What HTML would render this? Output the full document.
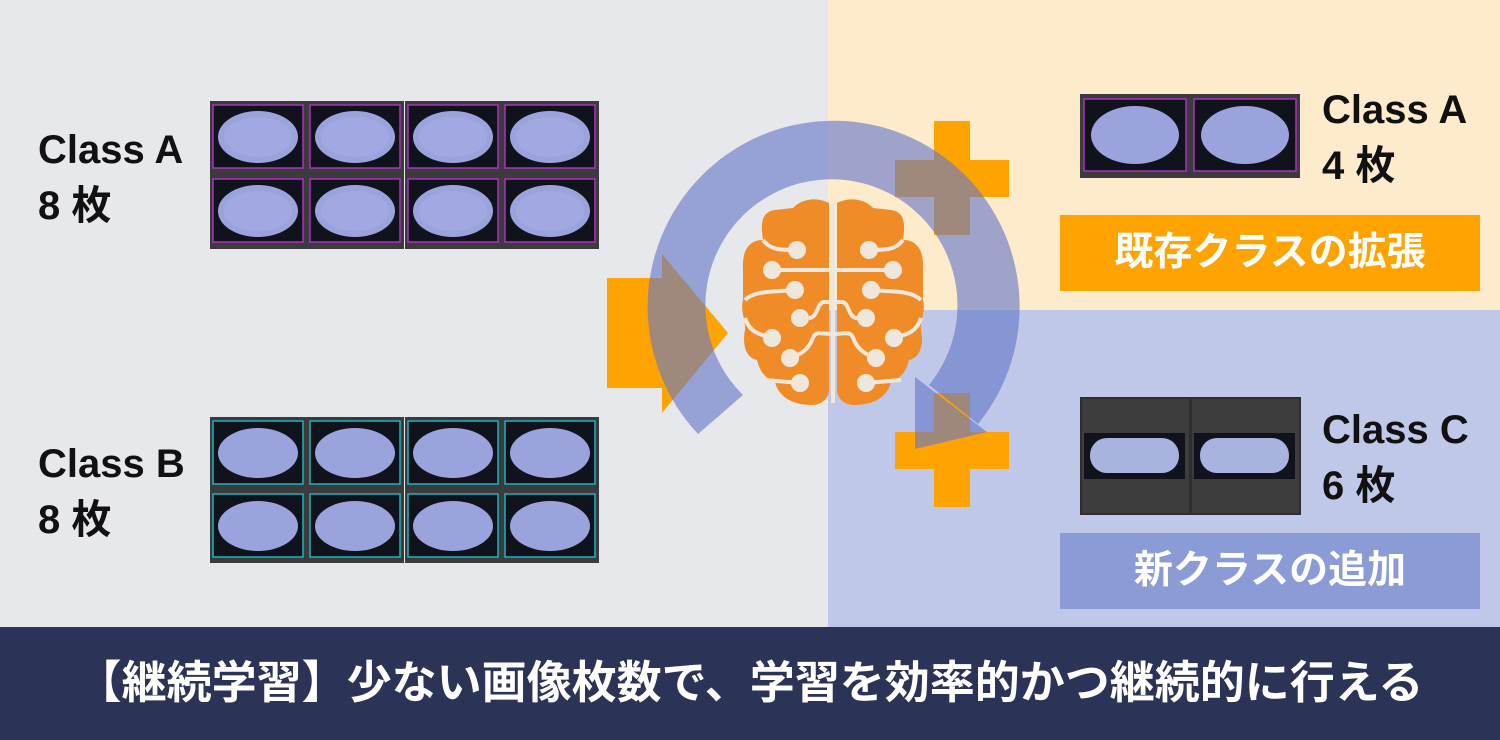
<!DOCTYPE html>
<html><head><meta charset="utf-8"><style>
body{margin:0;width:1500px;height:740px;overflow:hidden;font-family:"Liberation Sans","Noto Sans CJK JP",sans-serif;}
.t{position:absolute;font-weight:bold;color:#111;font-size:40px;line-height:1;}
</style></head><body>
<svg width="1500" height="740" style="position:absolute;left:0;top:0">
<defs>
<g id="pa"><rect width="97" height="74" fill="#3b3b3d"/><rect x="3" y="4" width="90" height="63" fill="#11131c" stroke="#b030c0" stroke-width="1.5"/><ellipse cx="48" cy="36" rx="40" ry="26" fill="#9ba3dd"/><ellipse cx="48" cy="36" rx="34" ry="20" fill="#a7aee6" opacity=".6"/></g>
<g id="pb"><rect width="97" height="73" fill="#3b3b3d"/><rect x="3" y="4" width="90" height="63" fill="#11131c" stroke="#19b4c0" stroke-width="1.5"/><ellipse cx="48" cy="36" rx="40" ry="25" fill="#9ba3dd"/></g>
<g id="pr"><rect width="110" height="84" fill="#3b3b3d"/><rect x="4" y="5" width="102" height="72" fill="#11131c" stroke="#b030c0" stroke-width="1.5"/><ellipse cx="55" cy="41" rx="44" ry="29" fill="#9ba3dd"/></g>
<g id="pc"><rect width="109" height="116" fill="#3d3d3d" stroke="#2e2e2e" stroke-width="2"/><rect x="3" y="35" width="101" height="46" fill="#11131c"/><rect x="9" y="40" width="89" height="35" rx="17" fill="#a9b3e0"/></g>
</defs>
<rect width="1500" height="740" fill="#e7e8ec"/>
<rect x="828" y="0" width="672" height="310" fill="#feebcc"/>
<rect x="828" y="310" width="672" height="317" fill="#c0c8e9"/>
<rect x="0" y="627" width="1500" height="113" fill="#2b3456"/>
<g transform="translate(210,101)"><use href="#pa"/><use href="#pa" x="97"/><use href="#pa" x="195"/><use href="#pa" x="292"/><use href="#pa" y="74"/><use href="#pa" x="97" y="74"/><use href="#pa" x="195" y="74"/><use href="#pa" x="292" y="74"/></g>
<g transform="translate(210,417)"><use href="#pb"/><use href="#pb" x="97"/><use href="#pb" x="195"/><use href="#pb" x="292"/><use href="#pb" y="73"/><use href="#pb" x="97" y="73"/><use href="#pb" x="195" y="73"/><use href="#pb" x="292" y="73"/></g>
<g transform="translate(1080,94)"><use href="#pr"/><use href="#pr" x="110"/></g>
<g transform="translate(1081,398)"><use href="#pc"/><use href="#pc" x="110"/></g>
<rect x="1060" y="215" width="420" height="76" fill="#ffa300"/>
<rect x="1060" y="533" width="420" height="76" fill="#8a9bd6"/>
<rect x="607" y="278" width="56" height="110" fill="#ffa300"/>
<polygon points="662,254 662,413 728,333" fill="#ffa300"/>
<rect x="934" y="121" width="36" height="114" fill="#ffa300"/><rect x="895" y="160" width="114" height="37" fill="#ffa300"/>
<rect x="934" y="393" width="36" height="114" fill="#ffa300"/><rect x="895" y="432" width="114" height="37" fill="#ffa300"/>
<g fill="#6478c8" opacity=".62">
<path d="M698,434 A186,186 0 1 1 978,424 L929,385 A126,126 0 1 0 743,395 Z"/>
<polygon points="915,377 915,449 987,432"/>
</g>
<g fill="#f08c28">
<path d="M829,203 C815,196 800,200 793,208 L775,210 C760,212 761,226 763,240 C746,240 742,255 743,270 L743,300 C740,310 746,322 745,330 C742,345 746,358 757,360 C760,372 765,378 775,382 C778,395 790,405 812,405 C822,405 829,398 829,390 Z"/>
<path d="M837,203 C851,196 866,200 873,208 L891,210 C906,212 905,226 903,240 C920,240 924,255 923,270 L923,300 C926,310 920,322 921,330 C924,345 920,358 909,360 C906,372 901,378 891,382 C888,395 876,405 854,405 C844,405 837,398 837,390 Z"/>
</g>
<g stroke="#efe6dc" stroke-width="4" fill="none">
<path d="M763,240 C770,250 780,250 797,250"/><path d="M903,240 C896,250 886,250 869,250"/>
<path d="M772,270 L893,270"/>
<path d="M745,300 C755,290 775,292 795,290"/><path d="M921,300 C911,290 891,292 871,290"/>
<path d="M809,318 C818,318 817,302 824,302 L842,302 C849,302 848,318 857,318"/>
<path d="M745,318 C750,335 765,335 772,338"/><path d="M921,318 C916,335 901,335 894,338"/>
<path d="M790,358 C800,355 808,350 812,340 C815,330 820,334 833,334 C846,334 851,330 854,340 C858,350 866,355 876,358"/>
<path d="M765,380 L800,383"/><path d="M901,380 L866,383"/>
</g>
<g fill="#efe6dc">
<circle cx="797" cy="250" r="9"/><circle cx="869" cy="250" r="9"/>
<circle cx="772" cy="270" r="9"/><circle cx="893" cy="270" r="9"/>
<circle cx="795" cy="290" r="9"/><circle cx="871" cy="290" r="9"/>
<circle cx="800" cy="318" r="9"/><circle cx="866" cy="318" r="9"/>
<circle cx="772" cy="338" r="9"/><circle cx="894" cy="338" r="9"/>
<circle cx="790" cy="358" r="9"/><circle cx="876" cy="358" r="9"/>
<circle cx="800" cy="383" r="9"/><circle cx="866" cy="383" r="9"/>
</g>
<rect x="831" y="203" width="4" height="200" fill="#efe6dc"/>
</svg>
<div class="t" style="left:38px;top:130px">Class A</div>
<div class="t" style="left:38px;top:186px">8 枚</div>
<div class="t" style="left:38px;top:444px">Class B</div>
<div class="t" style="left:38px;top:500px">8 枚</div>
<div class="t" style="left:1322px;top:90px">Class A</div>
<div class="t" style="left:1322px;top:146px">4 枚</div>
<div class="t" style="left:1322px;top:410px">Class C</div>
<div class="t" style="left:1322px;top:466px">6 枚</div>
<div class="t" style="left:1060px;top:233px;width:420px;text-align:center;color:#fff;font-size:39px">既存クラスの拡張</div>
<div class="t" style="left:1060px;top:551px;width:420px;text-align:center;color:#fff;font-size:39px">新クラスの追加</div>
<div class="t" style="left:0;top:660px;width:1500px;text-align:center;color:#fff;font-size:45px">【継続学習】少ない画像枚数で、学習を効率的かつ継続的に行える</div>
</body></html>
